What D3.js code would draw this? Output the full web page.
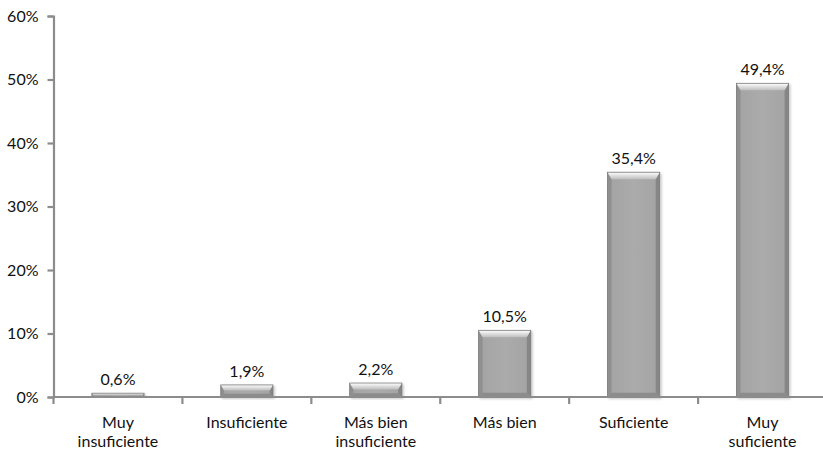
<!DOCTYPE html>
<html>
<head>
<meta charset="utf-8">
<script src="https://cdn.jsdelivr.net/npm/d3@7"></script>
<style>
  html, body { margin: 0; padding: 0; background: #fff; }
  svg { display: block; }
  text { font-family: Lato, "Open Sans", sans-serif; fill: #111; }
</style>
</head>
<body>
<div id="chart"></div>
<script>
// Categories (multi-line labels) and their shares in percent
const categories = [
  ["Muy", "insuficiente"],
  ["Insuficiente"],
  ["Más bien", "insuficiente"],
  ["Más bien"],
  ["Suficiente"],
  ["Muy", "suficiente"]
];
const values = [0.6, 1.9, 2.2, 10.5, 35.4, 49.4];
const valueLabels = ["0,6%", "1,9%", "2,2%", "10,5%", "35,4%", "49,4%"];
const yTicks = [0, 10, 20, 30, 40, 50, 60];

const W = 823, H = 455;
const margin = { left: 53.5, right: -4, top: 16, bottom: 58 };

const svg = d3.select("#chart").append("svg")
  .attr("width", W).attr("height", H);

const x = d3.scaleBand()
  .domain(d3.range(categories.length))
  .range([margin.left, W - margin.right])
  .paddingInner(0.595)
  .paddingOuter(0.2975);

const y = d3.scaleLinear()
  .domain([0, 60])
  .range([H - margin.bottom, margin.top]);

// Gradients for the bevelled bar faces
const defs = svg.append("defs");
const topGrad = defs.append("linearGradient")
  .attr("id", "bevelTop").attr("x1", 0).attr("y1", 0).attr("x2", 0).attr("y2", 1);
topGrad.append("stop").attr("offset", "0%").attr("stop-color", "#ffffff");
topGrad.append("stop").attr("offset", "100%").attr("stop-color", "#bdbdbd");
const faceGrad = defs.append("linearGradient")
  .attr("id", "face").attr("x1", 0).attr("y1", 0).attr("x2", 1).attr("y2", 0);
faceGrad.append("stop").attr("offset", "0%").attr("stop-color", "#a3a3a3");
faceGrad.append("stop").attr("offset", "50%").attr("stop-color", "#ababab");
faceGrad.append("stop").attr("offset", "100%").attr("stop-color", "#a3a3a3");
const shadow = defs.append("filter").attr("id", "shadow")
  .attr("x", "-20%").attr("y", "-20%").attr("width", "140%").attr("height", "140%");
shadow.append("feDropShadow").attr("dx", 1.5).attr("dy", 1.5)
  .attr("stdDeviation", 1.2).attr("flood-color", "#000").attr("flood-opacity", 0.22);

// Bars
const bars = svg.append("g").selectAll("g.bar")
  .data(values)
  .join("g").attr("class", "bar").attr("filter", "url(#shadow)");

bars.each(function (v, i) {
  const g = d3.select(this);
  const x0 = x(i), x1 = x(i) + x.bandwidth();
  const y0 = y(v), y1 = y(0);
  const h = y1 - y0;
  const b = Math.min(7, h / 2.2);
  const s = Math.min(4, b * 0.6);
  g.append("rect")
    .attr("x", x0).attr("y", y0).attr("width", x1 - x0).attr("height", h)
    .attr("fill", "url(#face)");
  // left bevel
  g.append("polygon")
    .attr("points", [[x0, y0], [x0 + s, y0 + b], [x0 + s, y1 - b * 0.6], [x0, y1]].join(" "))
    .attr("fill", "#8f8f8f");
  // right bevel
  g.append("polygon")
    .attr("points", [[x1, y0], [x1 - s, y0 + b], [x1 - s, y1 - b * 0.6], [x1, y1]].join(" "))
    .attr("fill", "#868686");
  // bottom bevel
  g.append("polygon")
    .attr("points", [[x0, y1], [x0 + s, y1 - b * 0.6], [x1 - s, y1 - b * 0.6], [x1, y1]].join(" "))
    .attr("fill", "#8c8c8c");
  // top bevel
  g.append("polygon")
    .attr("points", [[x0, y0], [x1, y0], [x1 - s, y0 + b], [x0 + s, y0 + b]].join(" "))
    .attr("fill", "url(#bevelTop)");
  g.append("rect")
    .attr("x", x0).attr("y", y0).attr("width", x1 - x0).attr("height", h)
    .attr("fill", "none").attr("stroke", "#7d7d7d").attr("stroke-width", 0.8);
});

// Value labels above bars
svg.append("g").selectAll("text")
  .data(values)
  .join("text")
  .attr("x", (d, i) => x(i) + x.bandwidth() / 2)
  .attr("y", d => y(d) - 8)
  .attr("text-anchor", "middle")
  .attr("font-size", 16)
  .text((d, i) => valueLabels[i]);

// Y axis
const yAxis = svg.append("g")
  .attr("transform", `translate(${margin.left},0)`)
  .call(d3.axisLeft(y).tickValues(yTicks).tickFormat(d => d + "%").tickSize(6).tickPadding(9));
yAxis.select(".domain").attr("stroke", "#8c8c8c").attr("stroke-width", 2.2);
yAxis.selectAll(".tick line").attr("stroke", "#8c8c8c").attr("stroke-width", 2.2);
yAxis.selectAll(".tick text").attr("font-size", 16).attr("font-family", "Lato, sans-serif").attr("fill", "#111");

// X axis: line with ticks at category boundaries
const step = x.step();
const boundaries = d3.range(categories.length + 1).map(i => margin.left + i * step);
const xg = svg.append("g");
xg.append("line")
  .attr("x1", margin.left).attr("x2", W)
  .attr("y1", y(0)).attr("y2", y(0))
  .attr("stroke", "#8c8c8c").attr("stroke-width", 2.2);
xg.selectAll("line.tick")
  .data(boundaries)
  .join("line").attr("class", "tick")
  .attr("x1", d => d).attr("x2", d => d)
  .attr("y1", y(0)).attr("y2", y(0) + 7)
  .attr("stroke", "#8c8c8c").attr("stroke-width", 2.2);

// Category labels
xg.selectAll("text.cat")
  .data(categories)
  .join("text").attr("class", "cat")
  .attr("text-anchor", "middle")
  .attr("font-size", 16)
  .each(function (lines, i) {
    const t = d3.select(this);
    lines.forEach((ln, k) => {
      t.append("tspan")
        .attr("x", x(i) + x.bandwidth() / 2)
        .attr("y", y(0) + 31 + k * 19)
        .text(ln);
    });
  });
</script>
</body>
</html>
